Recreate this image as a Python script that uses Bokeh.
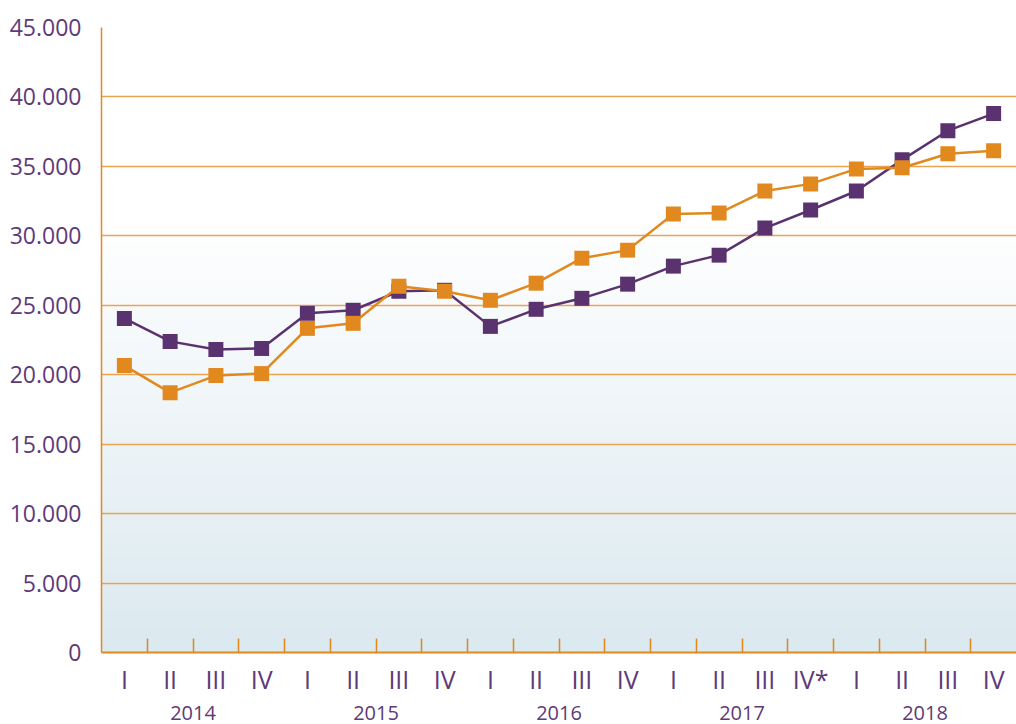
import numpy as np
from bokeh.plotting import figure
from bokeh.models import FixedTicker, LinearAxis, Range1d
from bokeh.embed import file_html
from bokeh.resources import INLINE

# ---- data ----
quarter_labels = ["I", "II", "III", "IV", "I", "II", "III", "IV", "I", "II",
                  "III", "IV", "I", "II", "III", "IV*", "I", "II", "III", "IV"]
years = ["2014", "2015", "2016", "2017", "2018"]
series_purple = [24050, 22400, 21820, 21890, 24420, 24640, 26010, 26080, 23480, 24710,
                 25500, 26520, 27820, 28610, 30560, 31860, 33230, 35470, 37570, 38800]
series_orange = [20660, 18710, 19940, 20080, 23340, 23700, 26370, 26010, 25360, 26590,
                 28390, 28970, 31570, 31640, 33230, 33740, 34820, 34900, 35910, 36120]
y_ticks = [0, 5000, 10000, 15000, 20000, 25000, 30000, 35000, 40000, 45000]
y_tick_labels = ["0", "5.000", "10.000", "15.000", "20.000", "25.000",
                 "30.000", "35.000", "40.000", "45.000"]

PURPLE = "#5B3270"
ORANGE = "#E1891F"
GRID = "#E9A451"
TEXT = "#5E3A78"
FONT = "Open Sans"

n = len(quarter_labels)
xs = [i + 0.5 for i in range(n)]

p = figure(width=1016, height=724, output_backend="svg", toolbar_location=None,
           x_range=Range1d(0, n), y_range=Range1d(0, 45000),
           min_border_left=101, min_border_right=0, min_border_top=27, min_border_bottom=72)
p.outline_line_color = None
p.background_fill_color = "white"
p.border_fill_color = "white"

# background gradient (white at ~31000 to light blue at 0)
rows = 200
top = np.array([255, 255, 255], dtype=float)
bot = np.array([219, 233, 240], dtype=float)
t = np.linspace(0, 1, rows)[:, None]
cols = (bot * (1 - t) + top * t).astype(np.uint32)
img = np.empty((rows, 1), dtype=np.uint32)
view = img.view(dtype=np.uint8).reshape((rows, 1, 4))
view[:, 0, 0] = cols[:, 0]
view[:, 0, 1] = cols[:, 1]
view[:, 0, 2] = cols[:, 2]
view[:, 0, 3] = 255
p.image_rgba(image=[img], x=0, y=0, dw=n, dh=31000, level="image")

# grid
p.xgrid.visible = False
p.ygrid.ticker = FixedTicker(ticks=y_ticks)
p.ygrid.grid_line_color = GRID
p.ygrid.grid_line_width = 1.3

# y axis
p.yaxis.ticker = FixedTicker(ticks=y_ticks)
p.yaxis.major_label_overrides = {v: s for v, s in zip(y_ticks, y_tick_labels)}
p.yaxis.axis_line_color = ORANGE
p.yaxis.axis_line_width = 1.5
p.yaxis.major_tick_line_color = None
p.yaxis.minor_tick_line_color = None
p.yaxis.major_label_standoff = 14
p.yaxis.major_label_text_font = FONT
p.yaxis.major_label_text_font_size = "23px"
p.yaxis.major_label_text_color = TEXT

# x axis: quarters
boundaries = list(range(1, n))
p.xaxis.ticker = FixedTicker(ticks=xs, minor_ticks=boundaries)
p.xaxis.major_label_overrides = {x: s for x, s in zip(xs, quarter_labels)}
p.xaxis.axis_line_color = ORANGE
p.xaxis.axis_line_width = 2
p.xaxis.major_tick_line_color = None
p.xaxis.minor_tick_line_color = ORANGE
p.xaxis.minor_tick_line_width = 1.5
p.xaxis.minor_tick_in = 14
p.xaxis.minor_tick_out = 0
p.xaxis.major_label_standoff = 3
p.xaxis.major_label_text_font = FONT
p.xaxis.major_label_text_font_size = "25px"
p.xaxis.major_label_text_color = TEXT

# x axis: years
year_pos = [4 * i + 2 for i in range(len(years))]
yax = LinearAxis(ticker=FixedTicker(ticks=year_pos),
                 major_label_overrides={x: s for x, s in zip(year_pos, years)})
yax.axis_line_color = None
yax.major_tick_line_color = None
yax.minor_tick_line_color = None
yax.major_label_standoff = 1
yax.major_label_text_font = FONT
yax.major_label_text_font_size = "20px"
yax.major_label_text_color = TEXT
p.add_layout(yax, "below")

# series
p.line(xs, series_purple, line_color=PURPLE, line_width=2.5)
p.scatter(xs, series_purple, marker="square", size=15, fill_color=PURPLE, line_color=None)
p.line(xs, series_orange, line_color=ORANGE, line_width=2.5)
p.scatter(xs, series_orange, marker="square", size=15, fill_color=ORANGE, line_color=None)

open("out.html", "w").write(file_html(p, INLINE))
